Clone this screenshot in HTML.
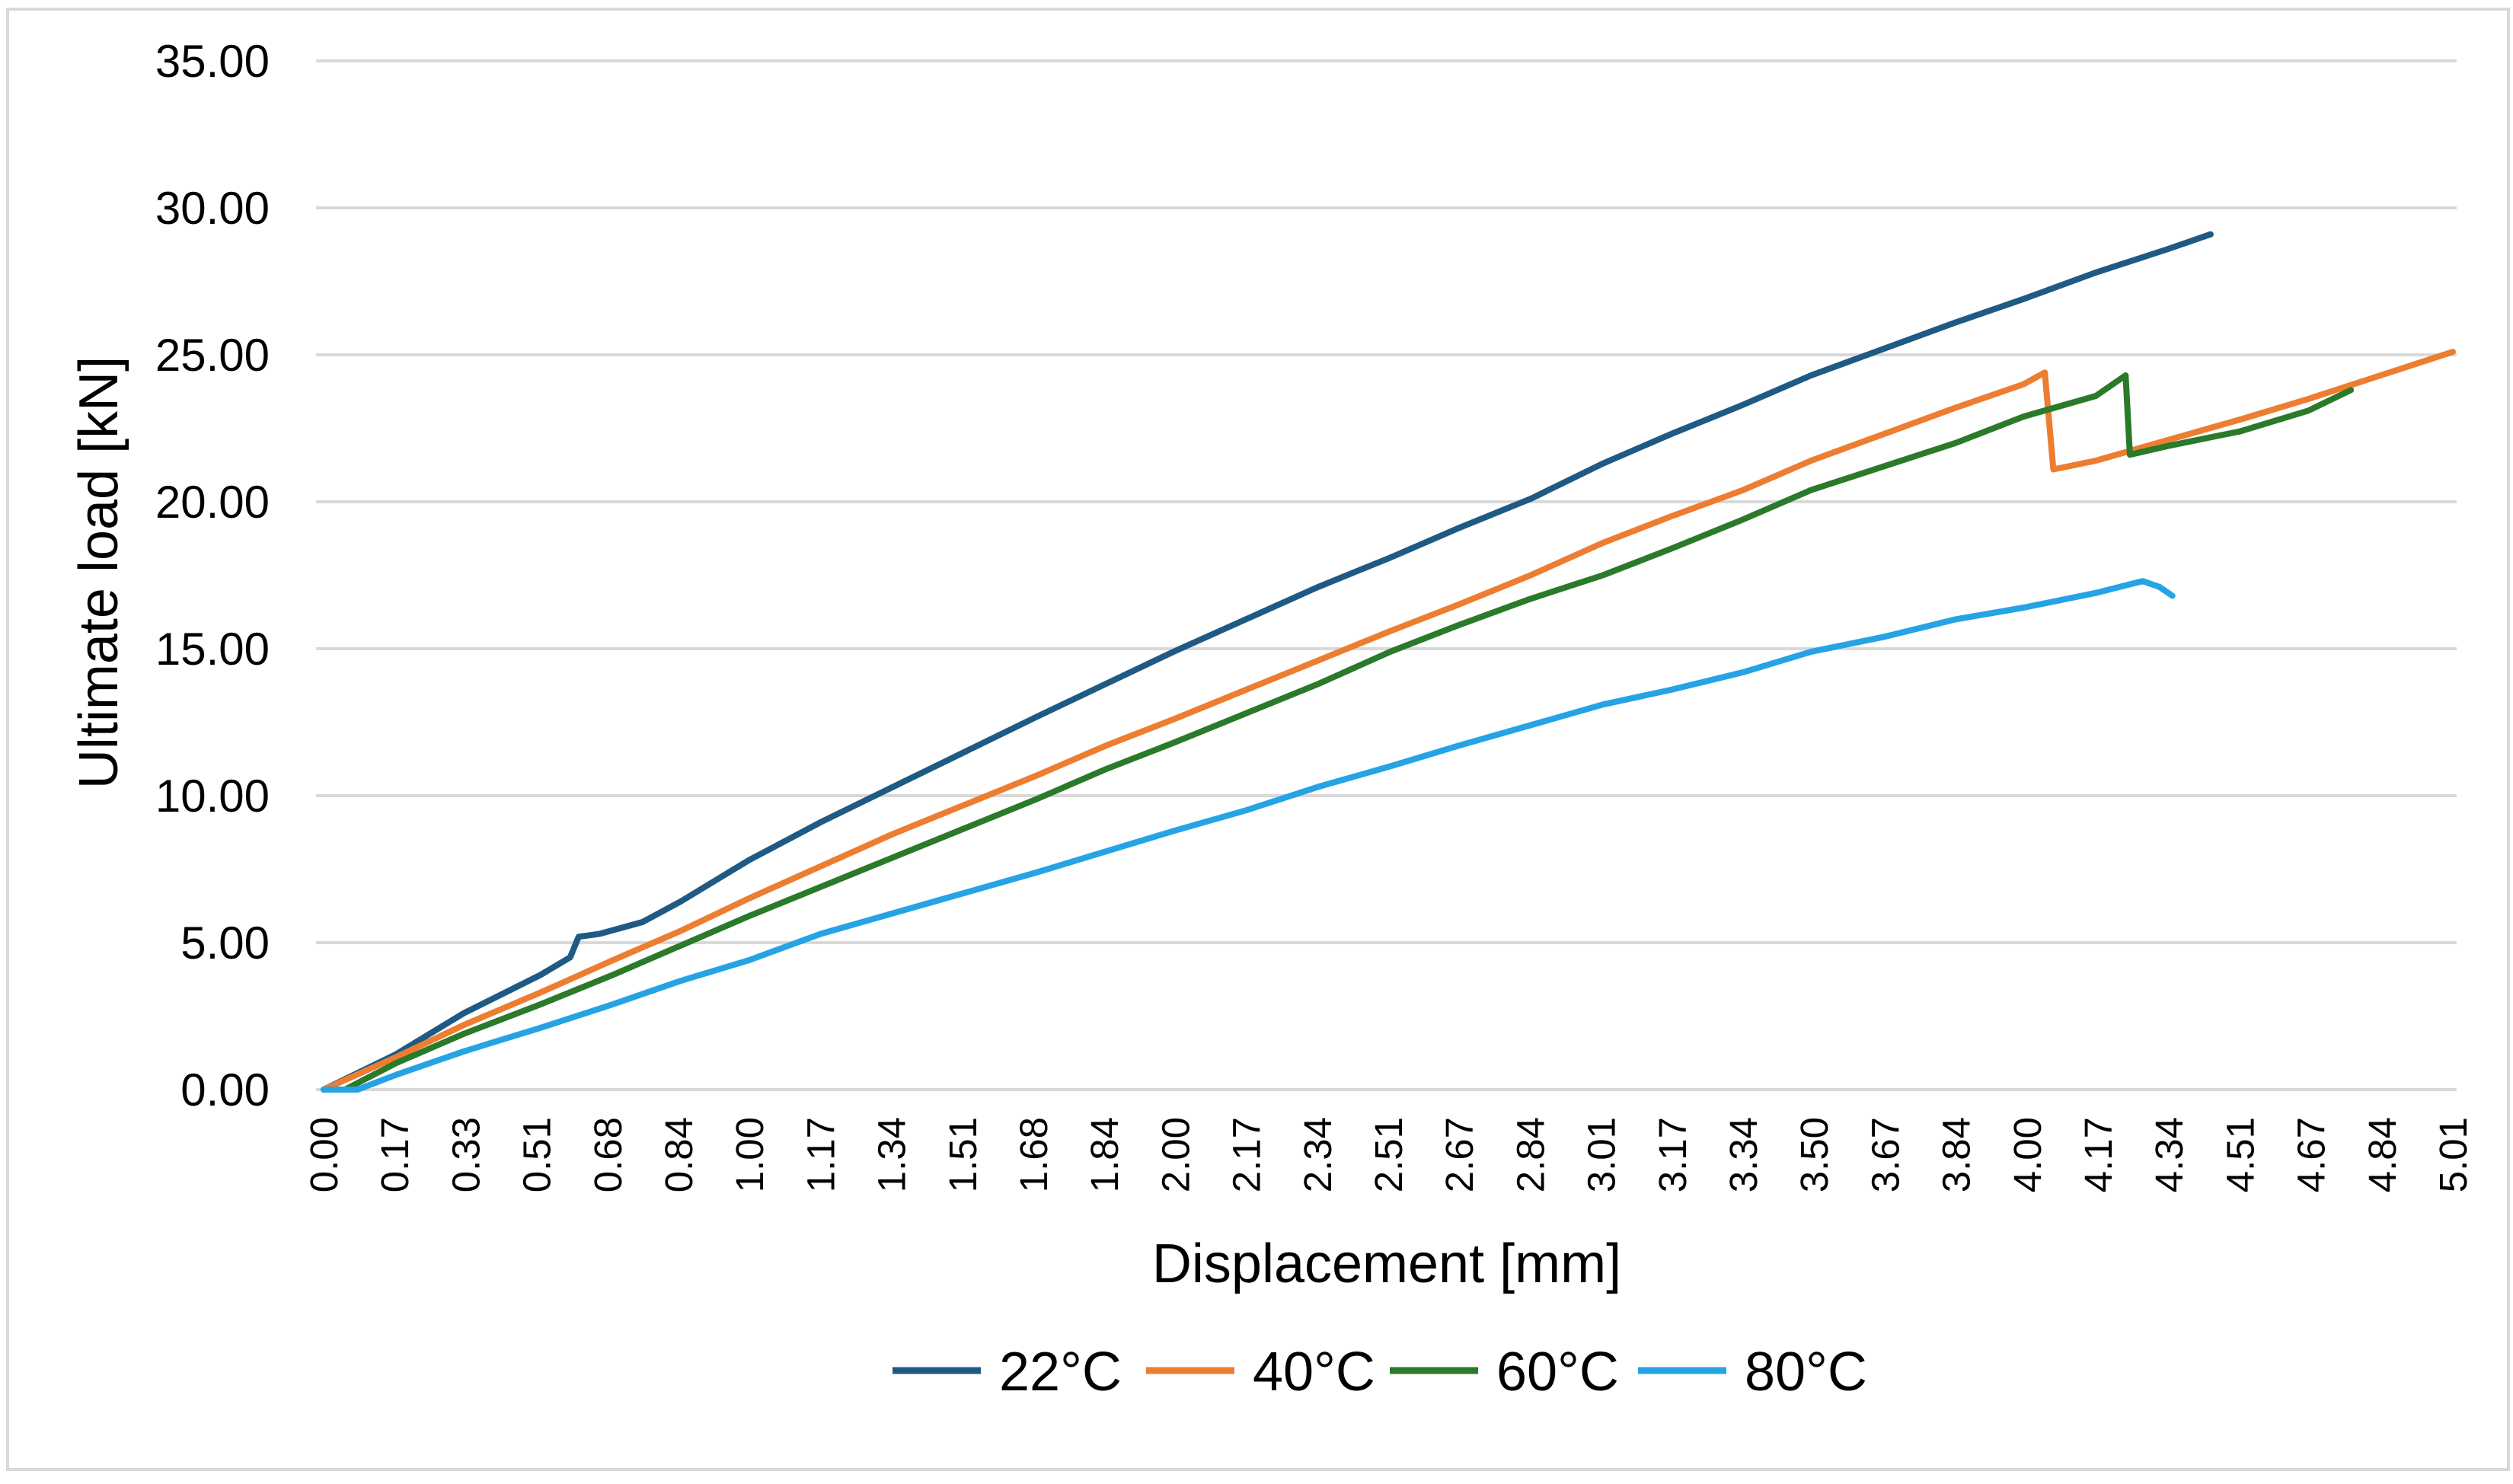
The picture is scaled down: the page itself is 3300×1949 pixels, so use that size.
<!DOCTYPE html>
<html><head><meta charset="utf-8"><style>
html,body{margin:0;padding:0;background:#fff;}
svg text{font-family:"Liberation Sans",Arial,sans-serif;fill:#000;}
</style></head><body>
<svg id="chart" width="3300" height="1944" viewBox="0 0 3300 1944" xmlns="http://www.w3.org/2000/svg">
<rect x="10" y="12" width="3284" height="1918" fill="#fff" stroke="#d9d9d9" stroke-width="4"/>
<g id="grid"></g>
<g id="yticks"></g>
<g id="xticks"></g>
<g id="series"></g>
<text transform="translate(154,752) rotate(-90)" text-anchor="middle" font-size="72">Ultimate load [kN]</text>
<text x="1821" y="1684" text-anchor="middle" font-size="72">Displacement [mm]</text>
<g id="legend"></g>
</svg>
<script>
const yTicks=[0,5,10,15,20,25,30,35];
const xTickLabels=["0.00","0.17","0.33","0.51","0.68","0.84","1.00","1.17","1.34","1.51","1.68","1.84","2.00","2.17","2.34","2.51","2.67","2.84","3.01","3.17","3.34","3.50","3.67","3.84","4.00","4.17","4.34","4.51","4.67","4.84","5.01"];
const seriesNames=["22°C","40°C","60°C","80°C"];
const seriesColors=["#1f5a85","#ed7d31","#2a7a2a","#26a3e4"];
const s22x=[0,0.17,0.33,0.51,0.58,0.60,0.65,0.75,0.84,1.0,1.17,1.34,1.51,1.68,1.84,2.0,2.17,2.34,2.51,2.67,2.84,3.01,3.17,3.34,3.5,3.67,3.84,4.0,4.17,4.34,4.44];
const s22y=[0,1.2,2.6,3.9,4.5,5.2,5.3,5.7,6.4,7.8,9.1,10.3,11.5,12.7,13.8,14.9,16.0,17.1,18.1,19.1,20.1,21.3,22.3,23.3,24.3,25.2,26.1,26.9,27.8,28.6,29.1];
const s40x=[0,0.17,0.33,0.51,0.68,0.84,1.0,1.17,1.34,1.51,1.68,1.84,2.0,2.17,2.34,2.51,2.67,2.84,3.01,3.17,3.34,3.5,3.67,3.84,4.0,4.05,4.07,4.17,4.34,4.51,4.67,4.84,5.01];
const s40y=[0,1.1,2.2,3.3,4.4,5.4,6.5,7.6,8.7,9.7,10.7,11.7,12.6,13.6,14.6,15.6,16.5,17.5,18.6,19.5,20.4,21.4,22.3,23.2,24.0,24.4,21.1,21.4,22.1,22.8,23.5,24.3,25.1];
const s60x=[0,0.05,0.17,0.33,0.51,0.68,0.84,1.0,1.17,1.34,1.51,1.68,1.84,2.0,2.17,2.34,2.51,2.67,2.84,3.01,3.17,3.34,3.5,3.67,3.84,4.0,4.17,4.24,4.25,4.34,4.51,4.67,4.77];
const s60y=[0,0,0.9,1.9,2.9,3.9,4.9,5.9,6.9,7.9,8.9,9.9,10.9,11.8,12.8,13.8,14.9,15.8,16.7,17.5,18.4,19.4,20.4,21.2,22.0,22.9,23.6,24.3,21.6,21.9,22.4,23.1,23.8];
const s80x=[0,0.08,0.17,0.33,0.51,0.68,0.84,1.0,1.17,1.34,1.51,1.68,1.84,2.0,2.17,2.34,2.51,2.67,2.84,3.01,3.17,3.34,3.5,3.67,3.84,4.0,4.17,4.28,4.32,4.35];
const s80y=[0,0,0.5,1.3,2.1,2.9,3.7,4.4,5.3,6.0,6.7,7.4,8.1,8.8,9.5,10.3,11.0,11.7,12.4,13.1,13.6,14.2,14.9,15.4,16.0,16.4,16.9,17.3,17.1,16.8];
const allX=[s22x,s40x,s60x,s80x], allY=[s22y,s40y,s60y,s80y];
const NS="http://www.w3.org/2000/svg";
const X0=425,X1=3221,XMAX=5.01,Y0=1431,Y1=80,YMAX=35;
const xs=v=>X0+(v/XMAX)*(X1-X0);
const ys=v=>Y0-(v/YMAX)*(Y0-Y1);
function mk(tag,attrs,parent){const e=document.createElementNS(NS,tag);for(const k in attrs)e.setAttribute(k,attrs[k]);parent.appendChild(e);return e;}
const grid=document.getElementById('grid'),yt=document.getElementById('yticks'),xt=document.getElementById('xticks'),ser=document.getElementById('series'),leg=document.getElementById('legend');
yTicks.forEach(v=>{
  const l=mk('line',{x1:415,x2:3226,y1:ys(v),y2:ys(v),stroke:'#d9d9d9','stroke-width':4},grid);
  
  
  const t=mk('text',{x:354,y:ys(v)+21,'text-anchor':'end','font-size':60},yt);
  t.textContent=v.toFixed(2);
  
  
});
xTickLabels.forEach((s,i)=>{
  const x=X0+i*(X1-X0)/(xTickLabels.length-1);
  const t=mk('text',{transform:`translate(${x+18},1467) rotate(-90)`,'text-anchor':'end','font-size':51},xt);
  t.textContent=s;
  
  
});
allX.forEach((xa,si)=>{
  const d=xa.map((x,i)=>(i?'L':'M')+xs(x).toFixed(1)+','+ys(allY[si][i]).toFixed(1)).join(' ');
  const p=mk('path',{d:d,fill:'none',stroke:seriesColors[si],'stroke-width':8,'stroke-linejoin':'round','stroke-linecap':'round'},ser);
  
  
});
const legX=[1172,1505,1825,2151];
seriesNames.forEach((n,i)=>{
  const g=mk('g',{},leg);
  
  
  mk('line',{x1:legX[i],x2:legX[i]+116,y1:1800,y2:1800,stroke:seriesColors[i],'stroke-width':9},g);
  const t=mk('text',{x:legX[i]+140,y:1826,'font-size':72},g);
  t.textContent=n;
});
</script>
</body></html>
